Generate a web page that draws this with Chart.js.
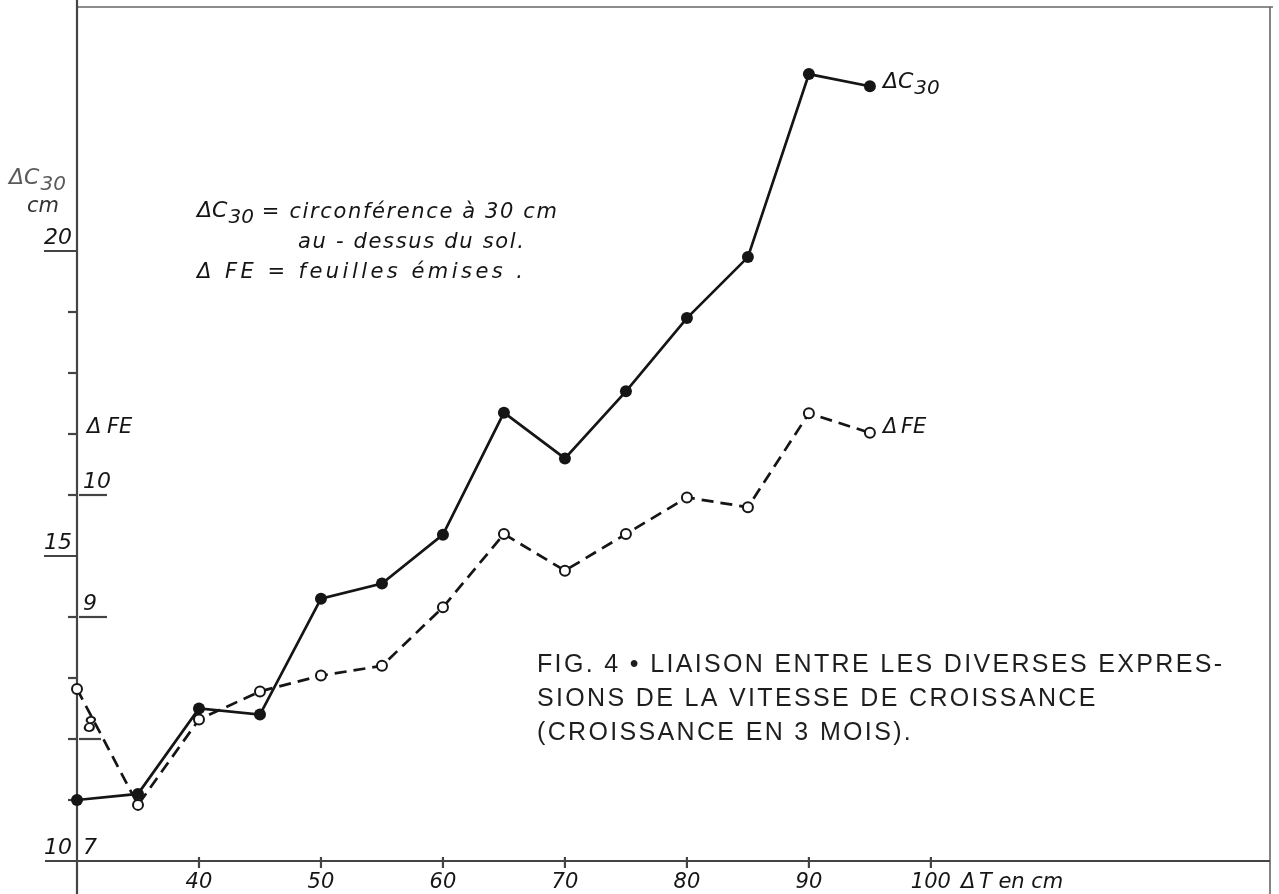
<!DOCTYPE html>
<html>
<head>
<meta charset="utf-8">
<script src="https://cdn.jsdelivr.net/npm/chart.js@4.4.1/dist/chart.umd.min.js"></script>
<style>
  html, body { margin: 0; padding: 0; background: #fff; }
  #wrap { width: 1279px; height: 894px; }
</style>
</head>
<body>
<div id="wrap"><canvas id="growthChart" width="1279" height="894"></canvas></div>
<script>
// Growth in 3 months: ΔC30 (cm) and ΔFE (leaves) against ΔT (cm)
const deltaT = [30, 35, 40, 45, 50, 55, 60, 65, 70, 75, 80, 85, 90, 95];
const deltaC30 = [11.0, 11.1, 12.5, 12.4, 14.3, 14.55, 15.35, 17.35, 16.6, 17.7, 18.9, 19.9, 22.9, 22.7];
const deltaFE = [8.41, 7.46, 8.16, 8.39, 8.52, 8.6, 9.08, 9.68, 9.38, 9.68, 9.98, 9.9, 10.67, 10.51];

const xTicks = [40, 50, 60, 70, 80, 90, 100];
const c30Labels = [10, 15, 20];
const c30Minor = [11, 12, 13, 14, 16, 17, 18, 19];
const feLabels = [7, 8, 9, 10];

const HAND = '"DejaVu Sans", sans-serif';
const INK = '#151515';
const AXIS = '#444';

function line(ctx, x1, y1, x2, y2) {
    ctx.beginPath();
    ctx.moveTo(x1, y1);
    ctx.lineTo(x2, y2);
    ctx.stroke();
}

// draw text char by char, spread to a target width
function spreadText(ctx, text, x, y, width) {
    const chars = Array.from(text);
    const natural = ctx.measureText(text).width;
    const gap = chars.length > 1 ? (width - natural) / (chars.length - 1) : 0;
    let cx = x;
    ctx.textAlign = 'left';
    chars.forEach(ch => {
        ctx.fillText(ch, cx, y);
        cx += ctx.measureText(ch).width + gap;
    });
    return gap;
}

// "ΔC" with subscript "30"
function deltaC(ctx, x, y, size, color) {
    ctx.fillStyle = color;
    ctx.textAlign = 'left';
    ctx.font = 'italic ' + size + 'px ' + HAND;
    ctx.fillText('\u0394C', x, y);
    const w = ctx.measureText('\u0394C').width;
    ctx.font = 'italic ' + Math.round(size * 0.9) + 'px ' + HAND;
    ctx.fillText('30', x + w + 1, y + size * 0.3);
    return x + w + 1 + ctx.measureText('30').width;
}

const axesPlugin = {
    id: 'handAxes',
    beforeDatasetsDraw(chart) {
        const { ctx, chartArea: area } = chart;
        const xs = chart.scales.x, yc = chart.scales.yC, yf = chart.scales.yF;
        ctx.save();
        ctx.lineCap = 'butt';

        // frame
        ctx.strokeStyle = '#666';
        ctx.lineWidth = 1.6;
        line(ctx, area.left, area.top, area.right + 3, area.top);
        line(ctx, area.right, area.top, area.right, 894);

        // axes
        ctx.strokeStyle = AXIS;
        ctx.lineWidth = 2.2;
        line(ctx, area.left, 0, area.left, 894);
        line(ctx, 45, area.bottom, area.right, area.bottom);

        // x ticks and labels
        ctx.fillStyle = INK;
        ctx.font = 'italic 21px ' + HAND;
        ctx.textBaseline = 'middle';
        ctx.textAlign = 'center';
        xTicks.forEach(v => {
            const px = xs.getPixelForValue(v);
            line(ctx, px, area.bottom - 4, px, area.bottom + 7);
            ctx.fillText(String(v), px, 883);
        });
        ctx.textAlign = 'left';
        const tEnd = xs.getPixelForValue(100) + 30;
        ctx.fillText('\u0394', tEnd, 883);
        ctx.fillText('T en cm', tEnd + 18, 883);

        // ΔC30 scale, left of the axis
        c30Minor.forEach(v => {
            const py = yc.getPixelForValue(v);
            line(ctx, area.left - 9, py, area.left, py);
        });
        ctx.font = 'italic 22px ' + HAND;
        ctx.textAlign = 'right';
        c30Labels.forEach(v => {
            const py = yc.getPixelForValue(v);
            if (v !== 10) line(ctx, area.left - 33, py, area.left, py);
            ctx.fillText(String(v), area.left - 5, py - 13);
        });

        // ΔFE scale, right of the axis
        ctx.textAlign = 'left';
        feLabels.forEach(v => {
            const py = yf.getPixelForValue(v);
            if (v !== 7) line(ctx, area.left + 2, py, area.left + (v === 8 ? 24 : 30), py);
            ctx.fillText(String(v), area.left + 6, py - 13);
        });

        // axis titles
        deltaC(ctx, 9, 178, 22, '#5a5a5a');
        ctx.font = 'italic 21px ' + HAND;
        ctx.fillStyle = '#333';
        ctx.fillText('cm', 27, 207);
        ctx.fillStyle = INK;
        ctx.fillText('\u0394', area.left + 10, 428);
        ctx.fillText('FE', area.left + 30, 428);
        ctx.restore();
    },
    afterDraw(chart) {
        const { ctx } = chart;
        const xs = chart.scales.x, yc = chart.scales.yC, yf = chart.scales.yF;
        const last = deltaT.length - 1;
        ctx.save();
        ctx.textBaseline = 'middle';

        // series labels next to the last points
        const lx = xs.getPixelForValue(deltaT[last]) + 13;
        deltaC(ctx, lx, yc.getPixelForValue(deltaC30[last]) - 4, 22, INK);
        ctx.font = 'italic 21px ' + HAND;
        ctx.fillStyle = INK;
        ctx.textAlign = 'left';
        const fy = yf.getPixelForValue(deltaFE[last]) - 5;
        ctx.fillText('\u0394', lx, fy);
        ctx.fillText('FE', lx + 18, fy);

        // definitions
        const e = deltaC(ctx, 197, 211, 22, INK);
        ctx.font = 'italic 21px ' + HAND;
        ctx.fillStyle = INK;
        spreadText(ctx, '= circonf\u00e9rence \u00e0 30 cm', e + 8, 213, 557 - e - 8);
        spreadText(ctx, 'au - dessus du sol.', 298, 243, 226);
        spreadText(ctx, '\u0394 FE = feuilles \u00e9mises .', 197, 273, 326);

        // caption
        ctx.font = '25px "Liberation Sans", Arial, sans-serif';
        ctx.fillStyle = '#1e1e1e';
        const cap1 = 'FIG. 4 \u2022 LIAISON ENTRE LES DIVERSES EXPRES-';
        const gap = spreadText(ctx, cap1, 537, 665, 685);
        const cap2 = 'SIONS DE LA VITESSE DE CROISSANCE';
        const cap3 = '(CROISSANCE EN 3 MOIS).';
        const w2 = ctx.measureText(cap2).width + gap * (Array.from(cap2).length - 1);
        const w3 = ctx.measureText(cap3).width + gap * (Array.from(cap3).length - 1);
        spreadText(ctx, cap2, 537, 699, w2);
        spreadText(ctx, cap3, 537, 733, w3);
        ctx.restore();
    }
};

const c30Points = deltaT.map((t, i) => ({ x: t, y: deltaC30[i] }));
const fePoints = deltaT.map((t, i) => ({ x: t, y: deltaFE[i] }));

new Chart(document.getElementById('growthChart'), {
    type: 'line',
    data: {
        datasets: [{
            label: '\u0394C30',
            data: c30Points,
            yAxisID: 'yC',
            borderColor: INK,
            borderWidth: 2.7,
            backgroundColor: INK,
            pointRadius: 6,
            pointBorderWidth: 0,
            pointBackgroundColor: INK,
            tension: 0,
            clip: false
        }, {
            label: '\u0394FE',
            data: fePoints,
            yAxisID: 'yF',
            borderColor: INK,
            borderWidth: 2.7,
            borderDash: [12, 7],
            pointRadius: 5,
            pointBorderWidth: 2,
            pointBorderColor: INK,
            pointBackgroundColor: '#fff',
            tension: 0,
            clip: false
        }]
    },
    options: {
        responsive: false,
        animation: false,
        layout: { padding: { left: 77, top: 5, right: 9, bottom: 33 } },
        scales: {
            x: { type: 'linear', min: 30, max: 127.8, display: false },
            yC: { type: 'linear', position: 'left', min: 10, max: 24, display: false },
            yF: { type: 'linear', position: 'right', min: 7, max: 14, display: false }
        },
        plugins: {
            legend: { display: false },
            tooltip: { enabled: false }
        }
    },
    plugins: [axesPlugin]
});
</script>
</body>
</html>
